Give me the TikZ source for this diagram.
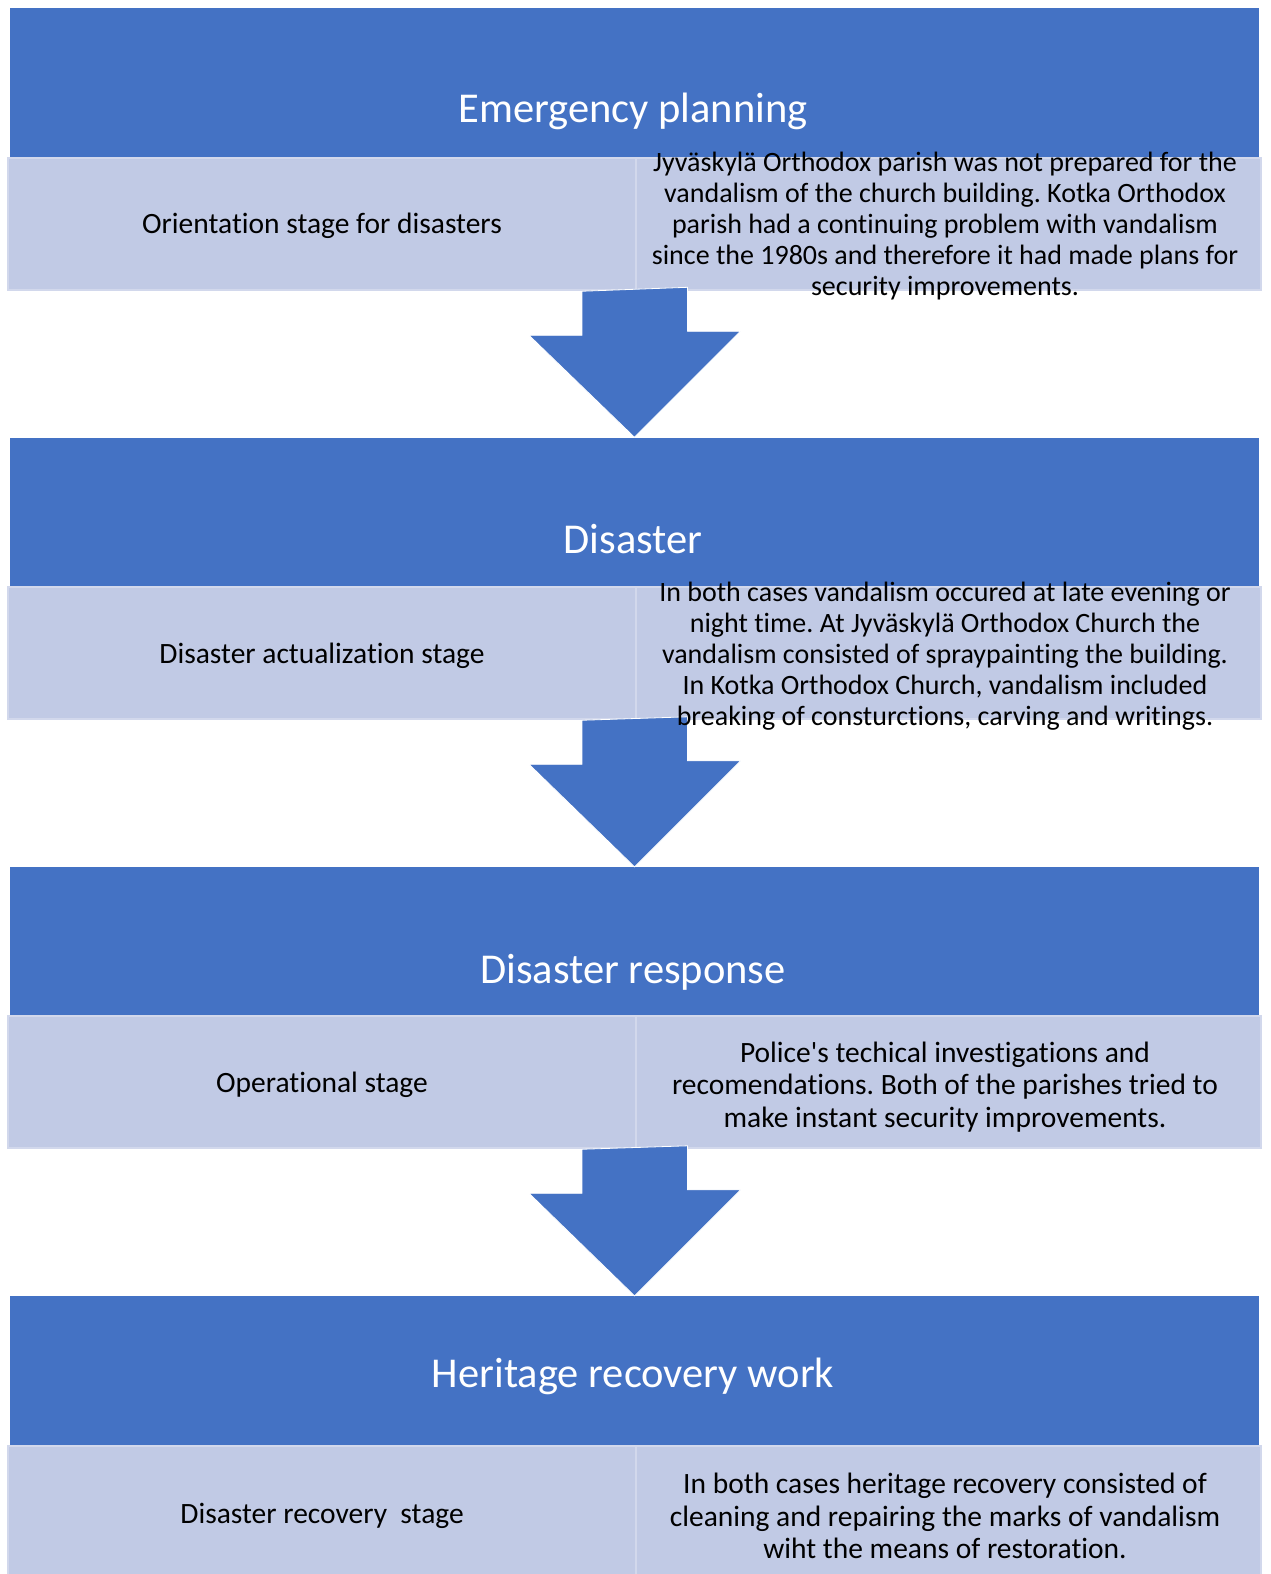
\documentclass[tikz,border=0pt]{standalone}
\usepackage{fontspec}
\setmainfont{Carlito}
\newfontfamily\bodyfont{Carlito}[Ligatures=NoCommon]
\begin{document}
\definecolor{bandblue}{RGB}{68,114,196}
\definecolor{cellfill}{RGB}{193,202,229}
\definecolor{celledge}{RGB}{210,216,236}
\frenchspacing
\begin{tikzpicture}[x=1pt,y=-1pt,
  band/.style={fill=bandblue, draw=none, inner sep=0, minimum width=1249pt, minimum height=150pt},
  cell/.style={fill=cellfill, draw=celledge, line width=2.5pt, inner sep=0, minimum height=132pt},
  downarrow/.style={fill=bandblue, draw=white, line width=0.8pt},
  title/.style={text=white, font=\bodyfont\fontsize{42.5}{50}\selectfont, inner sep=0},
  body/.style={text=black, font=\bodyfont\fontsize{29.5}{32.4}\selectfont, align=center, inner sep=0},
  smallbody/.style={body, font=\bodyfont\fontsize{28}{31}\selectfont}]
\useasboundingbox (0,0) rectangle (1270,1574);

% ---- stage 1 ----
\node[band] (b1) at (634.5,83) {};
\node[cell, minimum width=628pt] (l1) at (322,224) {};
\node[cell, minimum width=625pt] (r1) at (948.5,224) {};
% ---- stage 2 ----
\node[band] (b2) at (634.5,512.5) {};
\node[cell, minimum width=628pt] (l2) at (322,653) {};
\node[cell, minimum width=625pt] (r2) at (948.5,653) {};
% ---- stage 3 ----
\node[band] (b3) at (634.5,942) {};
\node[cell, minimum width=628pt] (l3) at (322,1082) {};
\node[cell, minimum width=625pt] (r3) at (948.5,1082) {};
% ---- stage 4 ----
\node[band] (b4) at (634.5,1371) {};
\node[cell, minimum width=628pt, minimum height=140pt] (l4) at (322,1516) {};
\node[cell, minimum width=625pt, minimum height=140pt] (r4) at (948.5,1516) {};

% ---- block arrows between the stages ----
\foreach \s/\t in {l1/b2, l2/b3, l3/b4}{
  \path (\s.south east) coordinate (top);
  \path (\t.north) coordinate (tip);
  \draw[downarrow] (top -| tip) ++(-52.5,0) -- ++(0,44) -- ++(-53,0)
     -- (tip) -- ++(106,-106) -- ++(-53,0) -- ++(0,-44) -- cycle;
}

% ---- titles ----
\node[title] at (633,111) {Emergency planning};
\node[title] at (633,539) {Disaster};
\node[title] at (633,972) {Disaster response};
\node[title] at (633,1376) {Heritage recovery work};

% ---- stage descriptions ----
\node[body] at (322,226) {Orientation stage for disasters};
\node[smallbody] at (945,226) {Jyväskylä Orthodox parish was not prepared for the\\
  vandalism of the church building. Kotka Orthodox\\
  parish had a continuing problem with vandalism\\
  since the 1980s and therefore it had made plans for\\
  security improvements.};

\node[body] at (322,656) {Disaster actualization stage};
\node[smallbody] at (945,656) {In both cases vandalism occured at late evening or\\
  night time. At Jyväskylä Orthodox Church the\\
  vandalism consisted of spraypainting the building.\\
  In Kotka Orthodox Church, vandalism included\\
  breaking of consturctions, carving and writings.};

\node[body] at (322,1085) {Operational stage};
\node[body] at (945,1087) {Police's techical investigations and\\
  recomendations. Both of the parishes tried to\\
  make instant security improvements.};

\node[body] at (322,1516) {Disaster recovery\ \ stage};
\node[body] at (945,1516) {In both cases heritage recovery consisted of\\
  cleaning and repairing the marks of vandalism\\
  wiht the means of restoration.};
\end{tikzpicture}
\end{document}
